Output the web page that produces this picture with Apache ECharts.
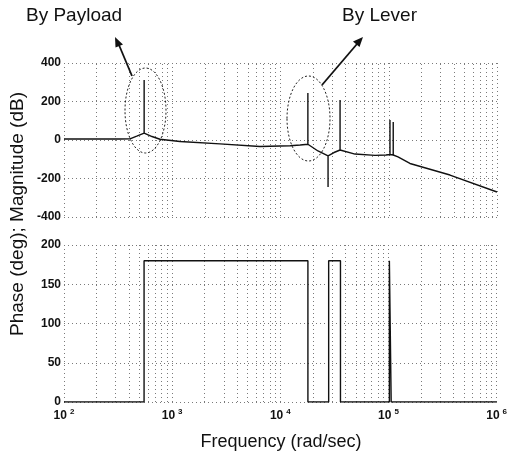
<!DOCTYPE html>
<html><head><meta charset="utf-8">
<script src="https://cdn.jsdelivr.net/npm/echarts@6/dist/echarts.min.js"></script>
<style>html,body{margin:0;padding:0;background:#fff}#c{width:510px;height:456px}</style>
</head><body><div id="c"></div>
<script>
// Magnitude curve: [frequency (rad/sec), magnitude (dB)]
const magFreq = [100, 215, 329, 407, 470, 550, 550, 550, 650, 770, 1180, 2760, 6450, 12300, 15200, 17900, 17900, 17900, 22200, 27500, 27500, 27500, 31200, 35500, 35500, 35500, 48800, 74600, 94400, 102600, 102600, 102600, 110000, 110000, 110000, 121700, 157000, 368000, 1000000];
const magDb   = [5, 5, 5, 6, 20, 36, 312, 36, 18, 4, -8, -20, -34, -30, -26, -22, 244, -22, -57, -82, -244, -82, -65, -52, 208, -52, -73, -80, -78, -75, 104, -75, -78, 94, -78, -88, -122, -182, -270];
// Phase curve: [frequency (rad/sec), phase (deg)]
const phaseFreq = [100, 550, 550, 18000, 18000, 28000, 28000, 36000, 36000, 102000, 102000, 106000, 106000, 1000000];
const phaseDeg  = [0, 0, 180, 180, 0, 0, 180, 180, 0, 0, 180, 180, 0, 0];
// Axis settings
const magTicks = [-400, -200, 0, 200, 400];
const phaseTicks = [0, 50, 100, 150, 200];
const decades = [2, 3, 4, 5, 6];

const minorVals = [];
for (let n = 2; n <= 5; n++) for (let k = 2; k <= 9; k++) minorVals.push(k * Math.pow(10, n));

const gridStyle = {color: '#7a7a7a', width: 1, type: [1, 3]};
const lineCol = '#111';
const fontFam = '"Liberation Sans", Arial, sans-serif';

function minorLines() {
  return {
    silent: true, symbol: ['none', 'none'], animation: false,
    label: {show: false}, lineStyle: gridStyle,
    data: minorVals.map(v => ({xAxis: v}))
  };
}

const chart = echarts.init(document.getElementById('c'));
const option = {
  animation: false,
  backgroundColor: '#fff',
  grid: [
    {left: 64, right: 13, top: 63, height: 154},
    {left: 64, right: 13, top: 245, height: 157}
  ],
  xAxis: [0, 1].map(i => ({
    type: 'log', logBase: 10, min: 100, max: 1000000, gridIndex: i,
    axisLine: {show: false}, axisTick: {show: false},
    splitLine: {show: true, lineStyle: gridStyle},
    axisLabel: i === 0 ? {show: false} : {
      show: true, margin: 6, color: '#111', fontFamily: fontFam,
      formatter: v => '{b|10}{s|' + Math.round(Math.log10(v)) + '}',
      rich: {
        b: {fontSize: 12, fontWeight: 'bold', fontFamily: fontFam, color: '#111'},
        s: {fontSize: 8, fontWeight: 'bold', fontFamily: fontFam, color: '#111', padding: [0, 0, 7, 3]}
      }
    }
  })),
  yAxis: [
    {type: 'value', gridIndex: 0, min: magTicks[0], max: magTicks[magTicks.length - 1], interval: 200,
     axisLine: {show: false}, axisTick: {show: false},
     splitLine: {show: true, lineStyle: gridStyle},
     axisLabel: {margin: 3, fontSize: 12, fontWeight: 'bold', color: '#111', fontFamily: fontFam}},
    {type: 'value', gridIndex: 1, min: phaseTicks[0], max: phaseTicks[phaseTicks.length - 1], interval: 50,
     axisLine: {show: false}, axisTick: {show: false},
     splitLine: {show: true, lineStyle: gridStyle},
     axisLabel: {margin: 3, fontSize: 12, fontWeight: 'bold', color: '#111', fontFamily: fontFam}}
  ],
  series: [
    {type: 'line', xAxisIndex: 0, yAxisIndex: 0, symbol: 'none', z: 5,
     lineStyle: {color: lineCol, width: 1.4},
     data: magFreq.map((f, i) => [f, magDb[i]]),
     markLine: minorLines()},
    {type: 'line', xAxisIndex: 1, yAxisIndex: 1, symbol: 'none', z: 5,
     lineStyle: {color: lineCol, width: 1.4},
     data: phaseFreq.map((f, i) => [f, phaseDeg[i]]),
     markLine: minorLines()}
  ],
  graphic: [
    {type: 'text', left: 26, top: 6, style: {text: 'By Payload', font: '19px ' + fontFam, fill: '#111'}},
    {type: 'text', left: 342, top: 6, style: {text: 'By Lever', font: '19px ' + fontFam, fill: '#111'}},
    {type: 'text', x: 18, y: 214, rotation: Math.PI / 2,
     style: {text: 'Phase (deg); Magnitude (dB)', font: '19px ' + fontFam, fill: '#111', align: 'center', verticalAlign: 'middle'}},
    {type: 'text', x: 281, y: 442,
     style: {text: 'Frequency (rad/sec)', font: '18px ' + fontFam, fill: '#111', align: 'center', verticalAlign: 'middle'}},
    {type: 'ellipse', shape: {cx: 145.5, cy: 110.5, rx: 20.5, ry: 42.5}, z: 10,
     style: {fill: 'none', stroke: '#222', lineWidth: 1, lineDash: [2, 2]}},
    {type: 'ellipse', shape: {cx: 308.5, cy: 118.5, rx: 21.5, ry: 42.5}, z: 10,
     style: {fill: 'none', stroke: '#222', lineWidth: 1, lineDash: [2, 2]}},
    {type: 'line', shape: {x1: 132, y1: 76, x2: 119, y2: 45}, z: 10, style: {stroke: '#111', lineWidth: 1.8}},
    {type: 'polygon', shape: {points: [[115, 37], [115.5, 47.5], [123, 44.5]]}, z: 10, style: {fill: '#111'}},
    {type: 'line', shape: {x1: 322, y1: 85, x2: 357, y2: 44}, z: 10, style: {stroke: '#111', lineWidth: 1.8}},
    {type: 'polygon', shape: {points: [[363, 37], [353, 41.5], [359.5, 47]]}, z: 10, style: {fill: '#111'}}
  ]
};
chart.setOption(option);
</script>
</body></html>
